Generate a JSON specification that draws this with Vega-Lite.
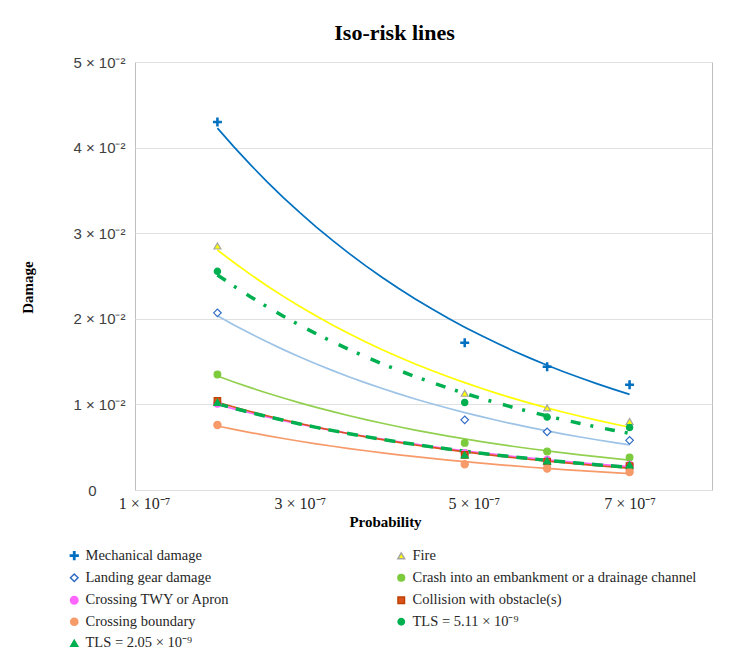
{
  "$schema": "https://vega.github.io/schema/vega-lite/v6.json",
  "width": 577,
  "height": 428,
  "autosize": {"type": "none"},
  "padding": {"left": 135, "top": 62, "right": 27, "bottom": 167},
  "background": "white",
  "title": {"text": "Iso-risk lines", "font": "Liberation Serif", "fontSize": 22, "fontWeight": "bold", "color": "#000000", "anchor": "middle", "dx": -29, "offset": 10},
  "config": {
    "view": {"stroke": "#BFBFBF", "strokeWidth": 1},
    "axis": {"domain": false, "ticks": false, "grid": true, "gridColor": "#E0E0E0", "gridWidth": 1},
    "legend": {"orient": "none", "legendX": -68, "legendY": 486, "columns": 2, "columnPadding": 163, "rowPadding": 6.5,
      "labelFont": "Liberation Serif", "labelFontSize": 14.5, "labelColor": "#262626", "labelLimit": 400, "labelOffset": 4, "padding": 0, "symbolOffset": 0, "titlePadding": 0}
  },
  "data": {"values": [
    {"series": "Mechanical damage", "P": 2e-7, "D": 0.0430},
    {"series": "Mechanical damage", "P": 5e-7, "D": 0.0172},
    {"series": "Mechanical damage", "P": 6e-7, "D": 0.0144},
    {"series": "Mechanical damage", "P": 7e-7, "D": 0.0123},
    {"series": "Fire", "P": 2e-7, "D": 0.0285},
    {"series": "Fire", "P": 5e-7, "D": 0.0113},
    {"series": "Fire", "P": 6e-7, "D": 0.0096},
    {"series": "Fire", "P": 7e-7, "D": 0.0080},
    {"series": "Landing gear damage", "P": 2e-7, "D": 0.0207},
    {"series": "Landing gear damage", "P": 5e-7, "D": 0.0082},
    {"series": "Landing gear damage", "P": 6e-7, "D": 0.0068},
    {"series": "Landing gear damage", "P": 7e-7, "D": 0.0058},
    {"series": "Crash into an embankment or a drainage channel", "P": 2e-7, "D": 0.0135},
    {"series": "Crash into an embankment or a drainage channel", "P": 5e-7, "D": 0.0055},
    {"series": "Crash into an embankment or a drainage channel", "P": 6e-7, "D": 0.0045},
    {"series": "Crash into an embankment or a drainage channel", "P": 7e-7, "D": 0.0038},
    {"series": "Crossing TWY or Apron", "P": 2e-7, "D": 0.0101},
    {"series": "Crossing TWY or Apron", "P": 5e-7, "D": 0.0043},
    {"series": "Crossing TWY or Apron", "P": 6e-7, "D": 0.0035},
    {"series": "Crossing TWY or Apron", "P": 7e-7, "D": 0.0029},
    {"series": "Collision with obstacle(s)", "P": 2e-7, "D": 0.0104},
    {"series": "Collision with obstacle(s)", "P": 5e-7, "D": 0.0041},
    {"series": "Collision with obstacle(s)", "P": 6e-7, "D": 0.0033},
    {"series": "Collision with obstacle(s)", "P": 7e-7, "D": 0.0028},
    {"series": "Crossing boundary", "P": 2e-7, "D": 0.0076},
    {"series": "Crossing boundary", "P": 5e-7, "D": 0.0030},
    {"series": "Crossing boundary", "P": 6e-7, "D": 0.0025},
    {"series": "Crossing boundary", "P": 7e-7, "D": 0.0021},
    {"series": "TLS = 5.11 × 10⁻⁹", "P": 2e-7, "D": 0.02555},
    {"series": "TLS = 5.11 × 10⁻⁹", "P": 5e-7, "D": 0.01022},
    {"series": "TLS = 5.11 × 10⁻⁹", "P": 6e-7, "D": 0.00852},
    {"series": "TLS = 5.11 × 10⁻⁹", "P": 7e-7, "D": 0.0073},
    {"series": "TLS = 2.05 × 10⁻⁹", "P": 2e-7, "D": 0.01025},
    {"series": "TLS = 2.05 × 10⁻⁹", "P": 5e-7, "D": 0.0041},
    {"series": "TLS = 2.05 × 10⁻⁹", "P": 6e-7, "D": 0.00342},
    {"series": "TLS = 2.05 × 10⁻⁹", "P": 7e-7, "D": 0.00293}
  ]},
  "layer": [
    {
      "transform": [
        {"filter": "indexof(datum.series, 'TLS') < 0"},
        {"regression": "D", "on": "P", "method": "exp", "groupby": ["series"]}
      ],
      "mark": {"type": "line", "clip": true, "strokeWidth": 1.7},
      "encoding": {
        "x": {"field": "P", "type": "quantitative"},
        "y": {"field": "D", "type": "quantitative"},
        "color": {"field": "series", "type": "nominal", "legend": null,
          "scale": {"domain": ["Mechanical damage", "Fire", "Landing gear damage", "Crash into an embankment or a drainage channel", "Crossing TWY or Apron", "Collision with obstacle(s)", "Crossing boundary"],
                    "range": ["#0070C0", "#FFFF00", "#9DC3E6", "#92D050", "#FF66FF", "#D9531E", "#F79A6A"]}}
      }
    },
    {
      "transform": [
        {"filter": "datum.series == 'TLS = 5.11 × 10⁻⁹'"},
        {"regression": "D", "on": "P", "method": "exp"}
      ],
      "mark": {"type": "line", "clip": true, "strokeWidth": 3.5, "color": "#00B050", "strokeDash": [10, 10, 3, 12]},
      "encoding": {
        "x": {"field": "P", "type": "quantitative"},
        "y": {"field": "D", "type": "quantitative"}
      }
    },
    {
      "transform": [
        {"filter": "datum.series == 'TLS = 2.05 × 10⁻⁹'"},
        {"regression": "D", "on": "P", "method": "exp"}
      ],
      "mark": {"type": "line", "clip": true, "strokeWidth": 3.5, "color": "#00B050", "strokeDash": [11, 8]},
      "encoding": {
        "x": {"field": "P", "type": "quantitative"},
        "y": {"field": "D", "type": "quantitative"}
      }
    },
    {
      "mark": {"type": "point", "filled": true, "opacity": 1, "strokeWidth": 1.2},
      "encoding": {
        "x": {"field": "P", "type": "quantitative",
          "scale": {"domain": [1e-7, 8e-7], "nice": false, "zero": false},
          "axis": {"values": [1e-7, 3e-7, 5e-7, 7e-7], "grid": false, "labelFlush": false, "labelExpr": "round(datum.value*1e7) + ' × 10⁻⁷'",
            "labelOffset": {"condition": {"test": "datum.value < 2e-7 || (datum.value > 4e-7 && datum.value < 6e-7)", "value": 9}, "value": 0},
            "labelFont": "Liberation Serif", "labelFontSize": 16, "labelColor": "#262626", "labelPadding": 5,
            "title": "Probability", "titleFont": "Liberation Serif", "titleFontSize": 15, "titleFontWeight": "bold", "titleColor": "#000000", "titleX": 250, "titleY": 24}},
        "y": {"field": "D", "type": "quantitative",
          "scale": {"domain": [0, 0.05], "nice": false},
          "axis": {"values": [0, 0.01, 0.02, 0.03, 0.04, 0.05], "labelExpr": "datum.value == 0 ? '0' : round(datum.value*100) + ' × 10⁻²'",
            "labelPadding": {"condition": {"test": "datum.value == 0", "value": 39}, "value": 10},
            "labelFont": "Liberation Sans", "labelFontSize": 15, "labelColor": "#404040",
            "title": "Damage", "titleFont": "Liberation Serif", "titleFontSize": 15, "titleFontWeight": "bold", "titleColor": "#000000", "titleX": -100, "titleY": 225}},
        "shape": {"field": "series", "type": "nominal", "title": null, "legend": {},
          "scale": {"domain": ["Mechanical damage", "Landing gear damage", "Crossing TWY or Apron", "Crossing boundary", "TLS = 2.05 × 10⁻⁹", "Fire", "Crash into an embankment or a drainage channel", "Collision with obstacle(s)", "TLS = 5.11 × 10⁻⁹"],
                    "range": ["M-1,-0.17H-0.17V-1H0.17V-0.17H1V0.17H0.17V1H-0.17V0.17H-1Z", "diamond", "circle", "circle", "triangle-up", "triangle-up", "circle", "square", "circle"]}},
        "fill": {"field": "series", "type": "nominal", "title": null, "legend": {},
          "scale": {"domain": ["Mechanical damage", "Landing gear damage", "Crossing TWY or Apron", "Crossing boundary", "TLS = 2.05 × 10⁻⁹", "Fire", "Crash into an embankment or a drainage channel", "Collision with obstacle(s)", "TLS = 5.11 × 10⁻⁹"],
                    "range": ["#0070C0", "#FFFFFF", "#FF66FF", "#F79A6A", "#00B050", "#FFFF00", "#7CCB3C", "#D9531E", "#00B050"]}},
        "stroke": {"field": "series", "type": "nominal", "title": null, "legend": {},
          "scale": {"domain": ["Mechanical damage", "Landing gear damage", "Crossing TWY or Apron", "Crossing boundary", "TLS = 2.05 × 10⁻⁹", "Fire", "Crash into an embankment or a drainage channel", "Collision with obstacle(s)", "TLS = 5.11 × 10⁻⁹"],
                    "range": ["#0070C0", "#2F6BC4", "#FF66FF", "#F79A6A", "#00B050", "#A5A5A5", "#7CCB3C", "#C04000", "#00B050"]}},
        "size": {"field": "series", "type": "nominal", "title": null, "legend": {},
          "scale": {"domain": ["Mechanical damage", "Landing gear damage", "Crossing TWY or Apron", "Crossing boundary", "TLS = 2.05 × 10⁻⁹", "Fire", "Crash into an embankment or a drainage channel", "Collision with obstacle(s)", "TLS = 5.11 × 10⁻⁹"],
                    "range": [60, 40, 12, 80, 90, 60, 90, 80, 115]}}
      }
    }
  ]
}
